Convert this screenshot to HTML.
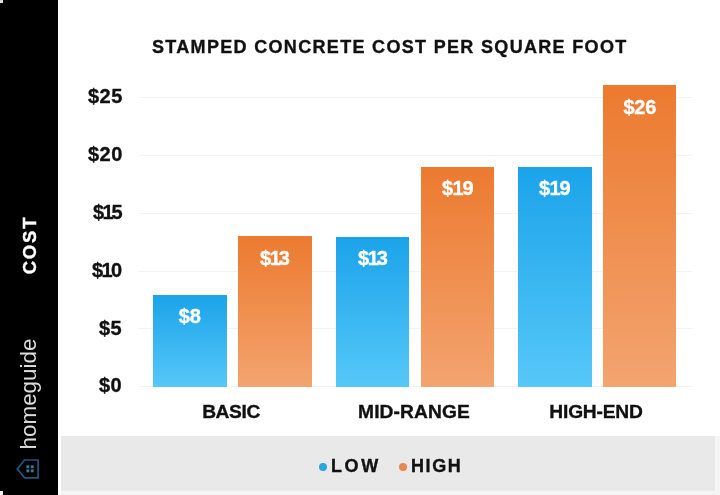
<!DOCTYPE html>
<html><head><meta charset="utf-8">
<style>
*{margin:0;padding:0;box-sizing:border-box}
html,body{width:720px;height:495px;overflow:hidden;background:#fff}
body{position:relative;font-family:"Liberation Sans",sans-serif}
.abs{position:absolute}
.yl,.xl,#title,.leg,.val,#cost{will-change:transform;-webkit-text-stroke:0.35px currentColor}
#side{left:0;top:0;width:58px;height:495px;background:#000}
#foot{left:61px;top:436px;width:654px;height:55px;background:#e9e9e9}
#foot2{left:58px;top:436px;width:662px;height:59px;background:#f5f5f5}
.grid{position:absolute;left:139px;width:553px;height:1px;background:#f2f2f2}
.yl{position:absolute;right:597.4px;font-weight:bold;font-size:20px;letter-spacing:0.5px;color:#111;line-height:20px;white-space:nowrap}
.bar{position:absolute;width:73.6px;bottom:108.5px}
.blue{background:linear-gradient(#1ba3ea,#56c8f8)}
.orng{background:linear-gradient(#ec7a2f,#f3a470)}
.val{position:absolute;left:0;right:0;text-align:center;top:11.5px;font-weight:bold;font-size:20px;letter-spacing:-0.2px;color:#fff;line-height:20px}
.xl{position:absolute;top:401.5px;font-weight:bold;font-size:19.2px;color:#111;line-height:20px;text-align:center;white-space:nowrap}
#title{left:152px;top:37.4px;font-weight:bold;font-size:18px;color:#111;letter-spacing:1.32px;white-space:nowrap;line-height:20px}
#cost{left:-20px;top:235px;width:100px;height:20px;line-height:20px;text-align:center;transform:rotate(-90deg);font-weight:bold;font-size:18.5px;letter-spacing:1.8px;color:#fff;white-space:nowrap}
#hg{left:-41px;top:382px;width:140px;height:24px;line-height:24px;text-align:center;transform:rotate(-90deg);font-size:22.4px;color:#dcdcdc;white-space:nowrap;will-change:transform}
.leg{top:456px;font-weight:bold;font-size:18px;color:#111;line-height:20px;white-space:nowrap}
.dot{width:8px;height:8px;border-radius:50%}
</style></head><body>
<div id="side" class="abs"></div>
<div id="foot2" class="abs"></div>
<div id="foot" class="abs"></div>
<div class="abs" style="left:58px;top:436px;width:3px;height:59px;background:#fff"></div>
<div class="abs" style="left:0;top:0;width:3px;height:3px;background:#ddd"></div>
<div class="abs" style="left:0;top:491px;width:3px;height:4px;background:#eee"></div>
<div id="title" class="abs">STAMPED CONCRETE COST PER SQUARE FOOT</div>

<div class="grid" style="top:97px"></div>
<div class="grid" style="top:155px"></div>
<div class="grid" style="top:213px"></div>
<div class="grid" style="top:271px"></div>
<div class="grid" style="top:328px"></div>
<div class="grid" style="top:386px"></div>

<div class="yl" style="top:86px">$25</div>
<div class="yl" style="top:144px">$20</div>
<div class="yl" style="top:202px">$<span style="margin:0 -2.6px 0 -2.2px">1</span>5</div>
<div class="yl" style="top:260px">$<span style="margin:0 -2.2px 0 -2.2px">1</span>0</div>
<div class="yl" style="top:318px">$5</div>
<div class="yl" style="top:375px">$0</div>

<div class="bar blue" style="left:153px;top:294.6px"><div class="val">$8</div></div>
<div class="bar orng" style="left:238px;top:236.3px"><div class="val">$<span style="margin:0 -2px 0 -1.2px">1</span>3</div></div>
<div class="bar blue" style="left:335.8px;top:236.5px"><div class="val">$<span style="margin:0 -2px 0 -1.2px">1</span>3</div></div>
<div class="bar orng" style="left:420.8px;top:166.6px"><div class="val">$<span style="margin:0 -0.8px 0 -0.6px">1</span>9</div></div>
<div class="bar blue" style="left:518px;top:166.6px"><div class="val">$<span style="margin:0 -0.8px 0 -0.6px">1</span>9</div></div>
<div class="bar orng" style="left:602.7px;top:85.3px"><div class="val">$26</div></div>

<div class="xl" style="left:131.3px;width:200px;letter-spacing:-0.4px">BASIC</div>
<div class="xl" style="left:314.3px;width:200px;letter-spacing:0.1px">MID-RANGE</div>
<div class="xl" style="left:496px;width:200px;letter-spacing:-0.2px">HIGH-END</div>

<div class="abs" id="cost">COST</div>
<div class="abs" id="hg">homeguide</div>
<svg class="abs" style="left:14px;top:456px" width="30" height="26" viewBox="0 0 30 26">
<path d="M10.5 4 H24.1 V21.8 H10.5 L3.3 12.9 Z" fill="none" stroke="#22577e" stroke-width="1.7"/>
<g fill="#3d7896"><rect x="12.4" y="9.3" width="2.9" height="2.9"/><rect x="16.8" y="9.3" width="2.9" height="2.9"/>
<rect x="12.4" y="13.4" width="2.9" height="2.9"/><rect x="16.8" y="13.4" width="2.9" height="2.9"/></g>
</svg>
<div class="abs dot" style="left:319px;top:463px;background:#2aa6dd"></div>
<div class="abs leg" style="left:331px;letter-spacing:2.6px">LOW</div>
<div class="abs dot" style="left:398.5px;top:463px;background:#e9874c"></div>
<div class="abs leg" style="left:411px;letter-spacing:1.6px">HIGH</div>
</body></html>
